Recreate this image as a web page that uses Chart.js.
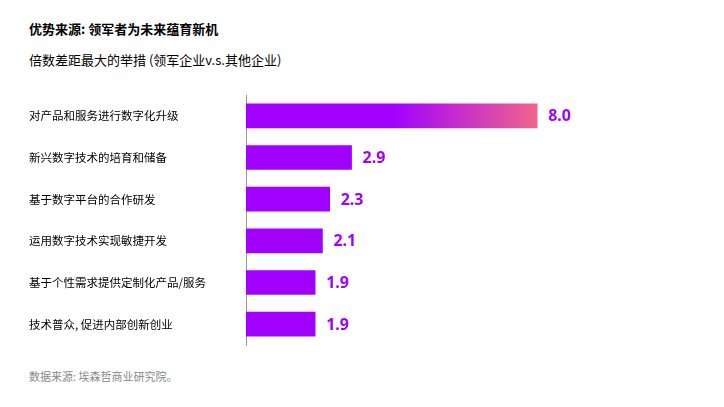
<!DOCTYPE html>
<html><head><meta charset="utf-8">
<script src="https://cdn.jsdelivr.net/npm/chart.js@4/dist/chart.umd.min.js"></script>
<style>
body{margin:0;background:#fff;font-family:"Noto Sans CJK SC","Noto Sans",sans-serif;}
#wrap{position:relative;width:724px;height:407px;}
canvas{position:absolute;left:0;top:0;}
.t{position:absolute;left:29px;white-space:nowrap;color:#000;}
</style></head><body>
<div id="wrap">
<div class="t" style="top:19px;font-size:13px;font-weight:bold;">优势来源: 领军者为未来蕴育新机</div>
<div class="t" style="top:50px;font-size:13px;">倍数差距最大的举措 (领军企业v.s.其他企业)</div>
<div class="t" style="top:368px;font-size:11px;color:#888;">数据来源: 埃森哲商业研究院。</div>
<canvas id="c" width="724" height="407"></canvas>
</div>
<script>
const categories=["对产品和服务进行数字化升级","新兴数字技术的培育和储备","基于数字平台的合作研发","运用数字技术实现敏捷开发","基于个性需求提供定制化产品/服务","技术普众, 促进内部创新创业"];
const values=[8.0,2.9,2.3,2.1,1.9,1.9];
const PURPLE="#a100ff";
const labelPlugin={id:"lbl",afterDatasetsDraw(ch){const ctx=ch.ctx;const m=ch.getDatasetMeta(0);ctx.save();ctx.font="bold 16px 'Noto Sans','Noto Sans CJK SC',sans-serif";ctx.fillStyle=PURPLE;ctx.textBaseline="middle";m.data.forEach((b,i)=>{ctx.fillText(values[i].toFixed(1),b.x+11,b.y+1);});ctx.restore();}};
new Chart(document.getElementById("c"),{type:"bar",
data:{labels:categories,datasets:[{data:values,barThickness:24,
backgroundColor:(c)=>{const ch=c.chart;const a=ch.chartArea;if(!a||c.dataIndex!==0)return PURPLE;const xs=ch.scales.x;const g=ch.ctx.createLinearGradient(xs.getPixelForValue(4),0,xs.getPixelForValue(8),0);g.addColorStop(0,PURPLE);g.addColorStop(1,"#f0648c");return g;}}]},
options:{indexAxis:"y",responsive:false,animation:false,
layout:{padding:{top:95,bottom:62,left:29,right:114}},
plugins:{legend:{display:false},tooltip:{enabled:false}},
scales:{x:{display:false,min:0,max:10},
y:{grid:{display:false,drawTicks:false},border:{display:true,color:"#999",width:1},
afterFit(s){s.width=217;},
ticks:{crossAlign:"far",color:"#000",padding:8,font:{size:11.5,family:"'Noto Sans CJK SC',sans-serif"}}}}},
plugins:[labelPlugin]});
</script>
</body></html>
